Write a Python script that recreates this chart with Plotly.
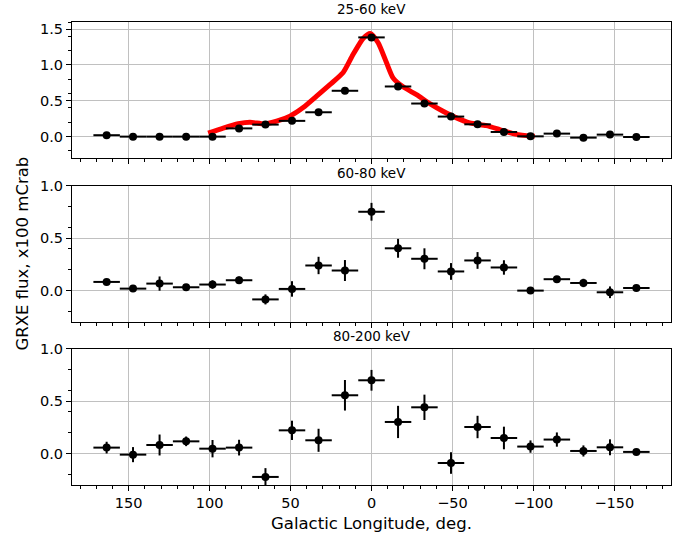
import plotly.graph_objects as go

# ---- data ----
longitude = [163.6, 147.3, 130.9, 114.5, 98.2, 81.8, 65.5, 49.1, 32.7, 16.4, 0.0,
             -16.4, -32.7, -49.1, -65.5, -81.8, -98.2, -114.5, -130.9, -147.3, -163.6]
bin_halfwidth = [8.18] * len(longitude)

flux_25_60 = [0.02, 0.0, 0.0, 0.0, 0.0, 0.115, 0.168, 0.22, 0.34, 0.64, 1.385,
              0.70, 0.462, 0.28, 0.172, 0.065, 0.004, 0.042, -0.014, 0.028, -0.005]
err_25_60 = [0.01, 0.01, 0.01, 0.01, 0.01, 0.015, 0.015, 0.015, 0.02, 0.02, 0.03,
             0.03, 0.02, 0.02, 0.015, 0.015, 0.01, 0.01, 0.015, 0.015, 0.01]

model_l = [100.9, 91.6, 82.3, 75.1, 65.9, 58.6, 50.4, 42.2, 33.9, 25.7, 17.5, 11.4, 5.2, 0.8,
           -4.1, -9.3, -13.3, -19.5, -27.8, -36.0, -44.2, -52.5, -60.7, -71.0, -79.2, -87.4,
           -95.7, -100.8]
model_flux = [0.05, 0.12, 0.18, 0.2, 0.177, 0.215, 0.285, 0.405, 0.565, 0.725, 0.895, 1.145,
              1.37, 1.44, 1.31, 1.03, 0.82, 0.695, 0.585, 0.462, 0.355, 0.262, 0.192, 0.153,
              0.098, 0.042, 0.014, 0.004]

flux_60_80 = [0.083, 0.019, 0.067, 0.032, 0.058, 0.099, -0.084, 0.016, 0.24, 0.192, 0.753,
              0.404, 0.304, 0.183, 0.288, 0.221, 0.0, 0.109, 0.073, -0.016, 0.025]
err_60_80 = [0.02, 0.03, 0.068, 0.02, 0.04, 0.035, 0.048, 0.074, 0.083, 0.1, 0.085,
             0.09, 0.1, 0.08, 0.08, 0.069, 0.015, 0.025, 0.04, 0.056, 0.02]

flux_80_200 = [0.057, -0.01, 0.082, 0.117, 0.047, 0.057, -0.223, 0.222, 0.127, 0.557, 0.70,
               0.302, 0.442, -0.09, 0.254, 0.149, 0.067, 0.134, 0.025, 0.06, 0.016]
err_80_200 = [0.056, 0.072, 0.1, 0.046, 0.083, 0.075, 0.084, 0.092, 0.11, 0.146, 0.099,
              0.154, 0.121, 0.103, 0.107, 0.108, 0.059, 0.068, 0.053, 0.076, 0.015]

panel_titles = ["25-60 keV", "60-80 keV", "80-200 keV"]
x_ticks = [150, 100, 50, 0, -50, -100, -150]
x_tick_text = ["150", "100", "50", "0", "\u221250", "\u2212100", "\u2212150"]

FONT = "DejaVu Sans"

fig = go.Figure()

fig.add_trace(go.Scatter(x=model_l, y=model_flux, mode="lines",
                         line=dict(color="red", width=5, shape="spline", smoothing=0.6),
                         xaxis="x", yaxis="y", showlegend=False, hoverinfo="skip"))

series = [(flux_25_60, err_25_60), (flux_60_80, err_60_80), (flux_80_200, err_80_200)]
axnames = [("x", "y"), ("x2", "y2"), ("x3", "y3")]
for (fl, er), (xa, ya) in zip(series, axnames):
    fig.add_trace(go.Scatter(
        x=longitude, y=fl, mode="markers",
        marker=dict(color="black", size=8),
        error_x=dict(type="data", array=bin_halfwidth, color="black", thickness=2, width=0),
        error_y=dict(type="data", array=er, color="black", thickness=2, width=0),
        xaxis=xa, yaxis=ya, showlegend=False))

common_x = dict(range=[185, -185], tickvals=x_ticks, ticktext=x_tick_text,
                showgrid=True, gridcolor="#c0c0c0", gridwidth=1,
                showline=True, linecolor="black", linewidth=1, mirror=True,
                ticks="outside", ticklen=5, tickcolor="black", zeroline=False,
                automargin=False,
                minor=dict(dtick=10, tick0=0, ticks="outside", ticklen=3, tickcolor="black",
                           showgrid=False),
                tickfont=dict(family=FONT, size=14.5, color="black"))
common_y = dict(dtick=0.5, tick0=0, showgrid=True, gridcolor="#c0c0c0", gridwidth=1,
                showline=True, linecolor="black", linewidth=1, mirror=True,
                ticks="outside", ticklen=5, tickcolor="black", zeroline=False,
                tickformat=".1f", automargin=False,
                minor=dict(dtick=0.2, tick0=0, ticks="outside", ticklen=3, tickcolor="black",
                           showgrid=False),
                tickfont=dict(family=FONT, size=14.5, color="black"))

domains = [[0.706, 1.0], [0.352, 0.646], [0.0, 0.294]]
yranges = [[-0.3, 1.6], [-0.3, 1.0], [-0.3, 1.0]]

layout = dict(
    width=686, height=534,
    margin=dict(l=72, r=15, t=22, b=49),
    paper_bgcolor="white", plot_bgcolor="white",
    font=dict(family=FONT, color="black"),
    hovermode=False,
)
for i in range(3):
    sx = "" if i == 0 else str(i + 1)
    xa = dict(common_x)
    xa["anchor"] = "y" + sx
    xa["showticklabels"] = (i == 2)
    if i > 0:
        xa["matches"] = "x"
    ya = dict(common_y)
    ya["domain"] = domains[i]
    ya["range"] = yranges[i]
    ya["anchor"] = "x" + sx
    layout["xaxis" + sx] = xa
    layout["yaxis" + sx] = ya

annotations = []
for i, t in enumerate(panel_titles):
    annotations.append(dict(text=t, x=0.5, xref="paper", y=domains[i][1], yref="paper",
                            xanchor="center", yanchor="bottom", yshift=3, showarrow=False,
                            font=dict(family=FONT, size=13.5, color="black")))
annotations.append(dict(text="Galactic Longitude, deg.", x=0.5, xref="paper", y=0, yref="paper",
                        xanchor="center", yanchor="top", yshift=-27, showarrow=False,
                        font=dict(family=FONT, size=16.5, color="black")))
annotations.append(dict(text="GRXE flux, x100 mCrab", x=0, xref="paper", y=0.5, yref="paper",
                        xanchor="center", yanchor="middle", xshift=-50, textangle=-90,
                        showarrow=False, font=dict(family=FONT, size=16.5, color="black")))
layout["annotations"] = annotations

fig.update_layout(**layout)
# remove the default 8px page margin so the figure fills the window exactly
fig.write_html("out.html",
               config={"displayModeBar": False, "staticPlot": True},
               post_script="document.body.style.margin='0px';document.body.style.padding='0px';")
